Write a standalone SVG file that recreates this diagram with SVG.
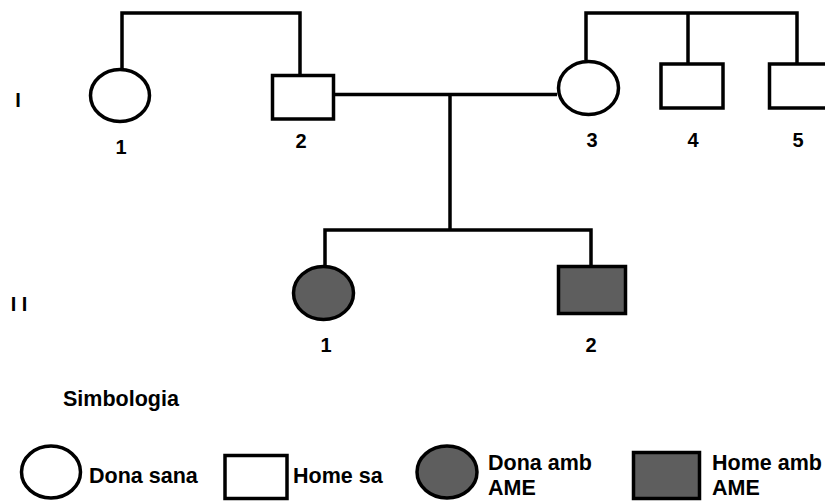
<svg xmlns="http://www.w3.org/2000/svg" width="825" height="502" viewBox="0 0 825 502">
<style>
.s{fill:#fff;stroke:#000;stroke-width:3.5}
.a{fill:#5e5e5e;stroke:#000;stroke-width:3.5}
.l{fill:none;stroke:#000;stroke-width:3.5}
text{font-family:"Liberation Sans",Arial,sans-serif;font-weight:bold;font-size:20px;fill:#000}
.c{text-anchor:middle}
.g{font-size:21.5px}
</style>
<rect width="825" height="502" fill="#fff"/>
<g id="connectors">
<polyline class="l" points="122,68 122,13 300,13 300,75"/>
<line class="l" x1="335" y1="94.5" x2="557" y2="94.5"/>
<polyline class="l" points="586,60 586,13 797,13 797,64"/>
<line class="l" x1="688" y1="13" x2="688" y2="63"/>
<line class="l" x1="450" y1="94.5" x2="450" y2="230"/>
<polyline class="l" points="325,265 325,230 591,230 591,265"/>
</g>
<text x="18" y="107" class="c">I</text>
<text x="19" y="311" class="c">I I</text>
<g id="I-1"><ellipse class="s" cx="120" cy="95.5" rx="29.5" ry="26"/><text x="121" y="154" class="c">1</text></g>
<g id="I-2"><rect class="s" x="272.5" y="75.5" width="61" height="43.5"/><text x="301" y="148" class="c">2</text></g>
<g id="I-3"><ellipse class="s" cx="588.5" cy="88" rx="30" ry="26.5"/><text x="592" y="147" class="c">3</text></g>
<g id="I-4"><rect class="s" x="661" y="64" width="62" height="44"/><text x="693" y="147" class="c">4</text></g>
<g id="I-5"><rect class="s" x="769.5" y="64" width="64" height="44"/><text x="798" y="147" class="c">5</text></g>
<g id="II-1"><ellipse class="a" cx="323.5" cy="293" rx="30" ry="26.5"/><text x="326" y="352" class="c">1</text></g>
<g id="II-2"><rect class="a" x="558.5" y="266.5" width="67" height="47"/><text x="591" y="352" class="c">2</text></g>
<text x="63" y="406" class="g">Simbologia</text>
<g id="legend-dona-sana"><ellipse class="s" cx="51" cy="472" rx="29.5" ry="26"/><text x="89" y="483" class="g">Dona sana</text></g>
<g id="legend-home-sa"><rect class="s" x="225" y="455.5" width="62" height="43"/><text x="293" y="483" class="g">Home sa</text></g>
<g id="legend-dona-ame"><ellipse class="a" cx="447" cy="472" rx="30" ry="26"/><text x="488" y="470" class="g">Dona amb</text><text x="488" y="495" class="g">AME</text></g>
<g id="legend-home-ame"><rect class="a" x="633.5" y="452.5" width="66" height="46"/><text x="712" y="470" class="g">Home amb</text><text x="712" y="495" class="g">AME</text></g>
</svg>
